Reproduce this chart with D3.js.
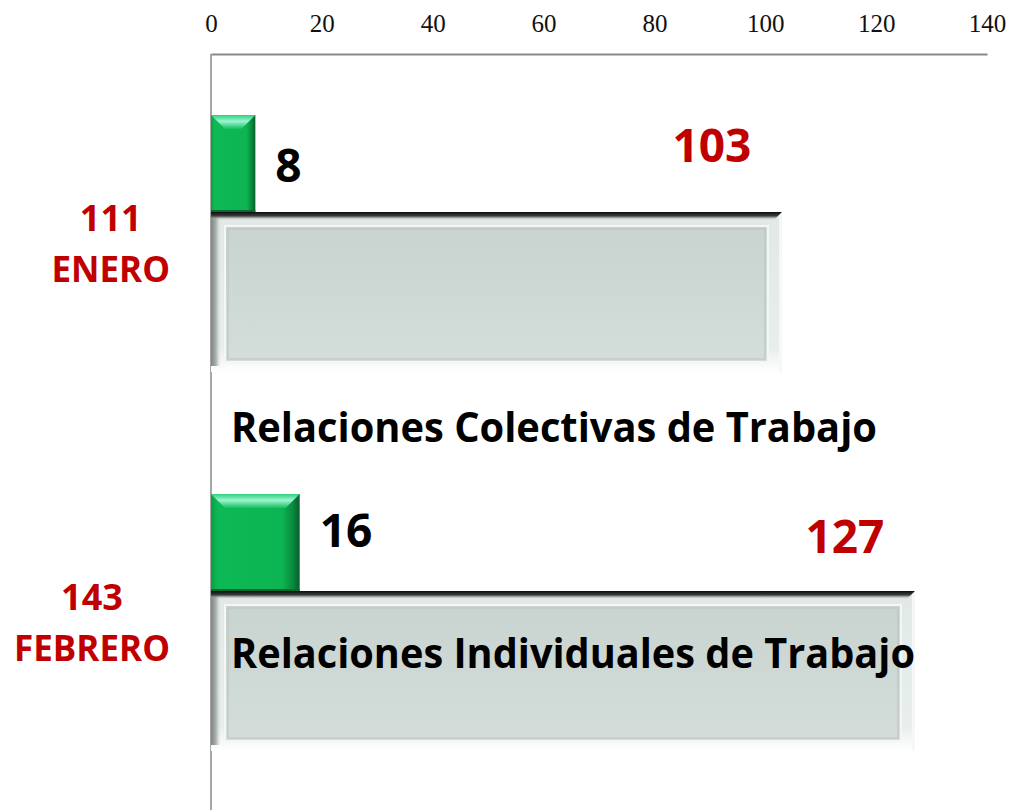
<!DOCTYPE html>
<html>
<head>
<meta charset="utf-8">
<script src="https://cdn.jsdelivr.net/npm/d3@7"></script>
<style>
  body { margin: 0; background: #fff; }
  svg { display: block; }
</style>
</head>
<body>
<div class="chart"></div>
<script>
// Datos del grafico
const months = ["ENERO", "FEBRERO"];
const totals = [111, 143];
const categories = ["Relaciones Colectivas de Trabajo", "Relaciones Individuales de Trabajo"];
const greenValues = [8, 16];
const grayValues = [103, 127];
const tickValues = [0, 20, 40, 60, 80, 100, 120, 140];

const width = 1011;
const height = 810;

const svg = d3
  .select(".chart")
  .append("svg")
  .attr("width", width)
  .attr("height", height);

// escalas
const xScale = d3.scaleLinear().domain([0, 140]).range([211, 987]);
const yScale = d3.scaleBand().domain(months).range([115, 873]).padding(0);
const greenH = 97;
const grayH = 160;

const defs = svg.append("defs");

function linGrad(id, x1, y1, x2, y2, stops) {
  const g = defs
    .append("linearGradient")
    .attr("id", id)
    .attr("x1", x1).attr("y1", y1)
    .attr("x2", x2).attr("y2", y2);
  stops.forEach((s) => {
    g.append("stop")
      .attr("offset", s[0])
      .attr("stop-color", s[1])
      .attr("stop-opacity", s[2] === undefined ? 1 : s[2]);
  });
}

linGrad("greenBody", 0, 0, 1, 0, [
  [0, "#0a9e45"], [0.08, "#0cba55"], [0.8, "#0cb552"], [0.92, "#0a8a3e"], [1, "#075e2a"]
]);
linGrad("greenBevel", 0, 0, 0, 1, [
  [0, "#2fd07a"], [0.45, "#9cf5d2"], [1, "#14bf5d"]
]);
linGrad("grayFrame", 0, 0, 0, 1, [
  [0, "#e2e8e6"], [0.85, "#e8eeec"], [1, "#ffffff"]
]);
linGrad("grayInner", 0, 0, 0, 1, [
  [0, "#c9d4d0"], [0.6, "#cfd9d5"], [1, "#d4ddd9"]
]);
linGrad("grayLeft", 0, 0, 1, 0, [
  [0, "#7e8583"], [0.5, "#a9b1ae"], [1, "#dbe2df", 0]
]);
linGrad("grayTop", 0, 0, 0, 1, [
  [0, "#0b0d0c"], [0.5, "#3a3f3d"], [1, "#c5cecb", 0]
]);

// eje superior
const xAxis = svg
  .append("g")
  .attr("transform", "translate(0,54)")
  .call(d3.axisTop(xScale).tickValues(tickValues).tickSize(0).tickSizeOuter(0).tickPadding(22));

xAxis.select(".domain").attr("stroke", "#898989").attr("stroke-width", 2);
xAxis
  .selectAll("text")
  .attr("font-family", "'Liberation Serif', 'Times New Roman', serif")
  .attr("font-size", 25)
  .attr("fill", "#111");

// eje vertical
svg
  .append("line")
  .attr("x1", xScale(0))
  .attr("x2", xScale(0))
  .attr("y1", 54)
  .attr("y2", height)
  .attr("stroke", "#898989")
  .attr("stroke-width", 1.5);

const rows = svg
  .selectAll(".row")
  .data(months.map((m, i) => ({
    month: m,
    total: totals[i],
    category: categories[i],
    green: greenValues[i],
    gray: grayValues[i],
    i: i
  })))
  .enter()
  .append("g")
  .attr("class", "row");

// barras grises
rows.each(function (d) {
  const g = d3.select(this);
  const x0 = xScale(0);
  const x1 = xScale(d.gray);
  const y0 = yScale(d.month) + greenH;

  g.append("rect")
    .attr("x", x0).attr("y", y0)
    .attr("width", x1 - x0).attr("height", grayH)
    .attr("fill", "url(#grayFrame)");

  g.append("rect")
    .attr("x", x0 + 14).attr("y", y0 + 14)
    .attr("width", x1 - x0 - 28).attr("height", grayH - 24)
    .attr("fill", "url(#grayInner)")
    .attr("stroke", "#f4f7f6")
    .attr("stroke-width", 2);

  // linea fina interior
  g.append("rect")
    .attr("x", x0 + 17).attr("y", y0 + 17)
    .attr("width", x1 - x0 - 34).attr("height", grayH - 30)
    .attr("fill", "none")
    .attr("stroke", "#b9c3bf")
    .attr("stroke-width", 1);

  g.append("rect")
    .attr("x", x1 - 3).attr("y", y0)
    .attr("width", 3).attr("height", grayH)
    .attr("fill", "#f6f8f7");

  g.append("rect")
    .attr("x", x0).attr("y", y0)
    .attr("width", 10).attr("height", grayH - 6)
    .attr("fill", "url(#grayLeft)");

  g.append("path")
    .attr("d", `M${x0},${y0}H${x1}L${x1 - 8},${y0 + 8}H${x0}Z`)
    .attr("fill", "url(#grayTop)");
});

// barras verdes
rows.each(function (d) {
  const g = d3.select(this);
  const x0 = xScale(0);
  const x1 = xScale(d.green);
  const y0 = yScale(d.month);
  const w = x1 - x0;
  const b = Math.min(14, w / 3);

  g.append("rect")
    .attr("x", x0).attr("y", y0)
    .attr("width", w).attr("height", greenH)
    .attr("fill", "url(#greenBody)");

  g.append("path")
    .attr("d", `M${x0},${y0}H${x1}L${x1 - b},${y0 + b}H${x0 + b}Z`)
    .attr("fill", "url(#greenBevel)");

  g.append("rect")
    .attr("x", x0).attr("y", y0 + greenH - 2)
    .attr("width", w).attr("height", 2)
    .attr("fill", "#0a6a30");
});

const boldFont = "'Open Sans', 'Noto Sans', sans-serif";

// etiquetas de valores verdes
rows
  .append("text")
  .attr("x", (d) => xScale(d.green) + 20)
  .attr("y", (d) => yScale(d.month) + (d.i === 0 ? 67 : 53))
  .attr("font-family", boldFont)
  .attr("font-weight", 700)
  .attr("font-size", 46)
  .attr("fill", "#000")
  .text((d) => d.green);

// etiquetas de valores grises
rows
  .append("text")
  .attr("x", (d) => xScale(d.gray) - 70)
  .attr("y", (d) => yScale(d.month) + (d.i === 0 ? 47 : 59))
  .attr("text-anchor", "middle")
  .attr("font-family", boldFont)
  .attr("font-weight", 700)
  .attr("font-size", 46)
  .attr("fill", "#c00000")
  .text((d) => d.gray);

// etiquetas de categoria
rows
  .append("text")
  .attr("x", xScale(0) + 20)
  .attr("y", (d) => yScale(d.month) + (d.i === 0 ? 327 : 174))
  .attr("font-family", boldFont)
  .attr("font-weight", 700)
  .attr("font-size", 41)
  .attr("fill", "#000")
  .text((d) => d.category)
  .each(function (d) {
    const target = d.i === 0 ? 646 : 684;
    d3.select(this).attr("textLength", target).attr("lengthAdjust", "spacingAndGlyphs");
  });

// meses y totales a la izquierda
rows.each(function (d) {
  const g = d3.select(this);
  const right = 170;
  const base = yScale(d.month) + 167;

  const m = g
    .append("text")
    .attr("x", right)
    .attr("y", base)
    .attr("text-anchor", "end")
    .attr("font-family", boldFont)
    .attr("font-weight", 700)
    .attr("font-size", 35)
    .attr("fill", "#c00000")
    .text(d.month);

  const mw = m.node().getComputedTextLength();

  g.append("text")
    .attr("x", right - mw / 2)
    .attr("y", base - 51)
    .attr("text-anchor", "middle")
    .attr("font-family", boldFont)
    .attr("font-weight", 700)
    .attr("font-size", 36)
    .attr("fill", "#c00000")
    .text(d.total);
});
</script>
</body>
</html>
